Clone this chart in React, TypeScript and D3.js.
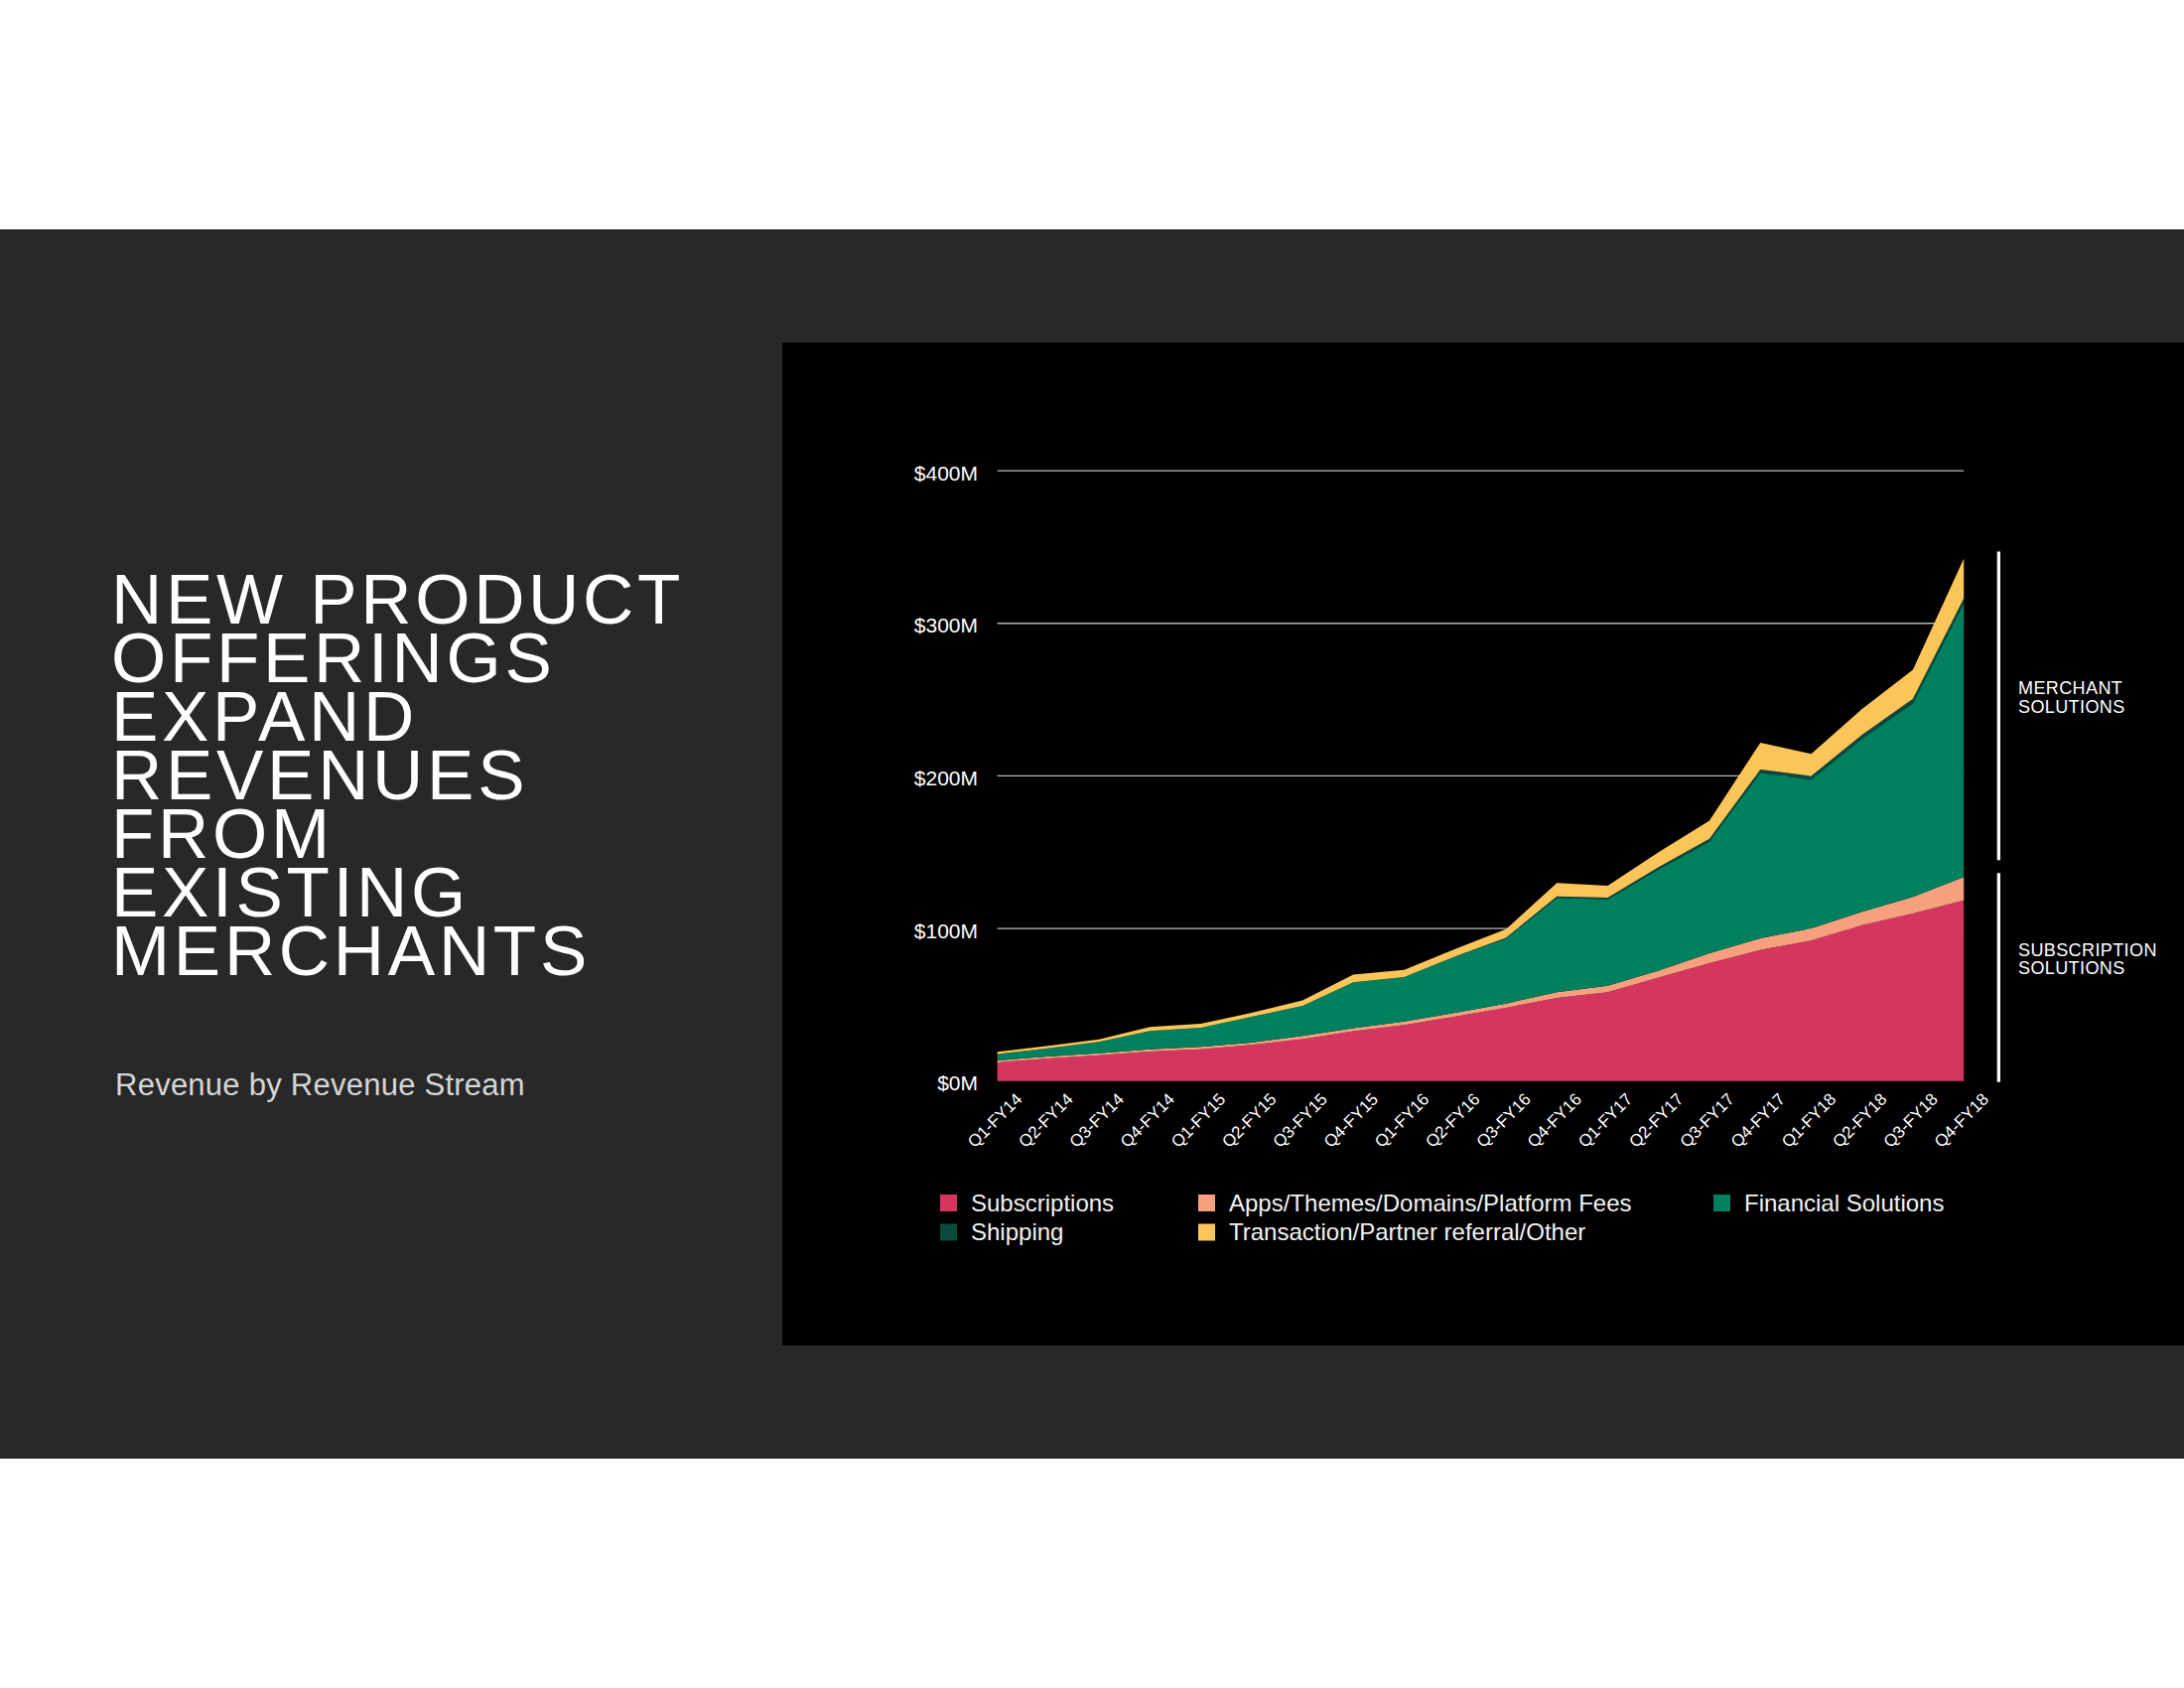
import React from "react";
import * as d3 from "d3";

const quarters = [
  "Q1-FY14", "Q2-FY14", "Q3-FY14", "Q4-FY14",
  "Q1-FY15", "Q2-FY15", "Q3-FY15", "Q4-FY15",
  "Q1-FY16", "Q2-FY16", "Q3-FY16", "Q4-FY16",
  "Q1-FY17", "Q2-FY17", "Q3-FY17", "Q4-FY17",
  "Q1-FY18", "Q2-FY18", "Q3-FY18", "Q4-FY18",
];

// $M per quarter
const subscriptions = [12.2, 14.8, 16.9, 19.3, 20.8, 23.7, 27.4, 32.7, 36.7, 42.3, 48.0, 54.5, 58.2, 67.8, 77.3, 85.9, 92.1, 102.2, 109.8, 118.5];
const appsFees = [1.3, 1.3, 1.3, 1.5, 1.6, 1.5, 2.1, 1.9, 2.3, 2.4, 2.8, 3.7, 4.3, 4.6, 6.5, 7.7, 8.0, 8.7, 10.9, 15.2];
const financialSolutions = [4.1, 5.4, 7.4, 12.0, 12.6, 16.9, 19.8, 30.1, 29.2, 36.9, 42.5, 61.9, 56.5, 66.3, 73.1, 108.4, 97.5, 113.5, 126.9, 179.5];
const shipping = [0, 0, 0, 0, 0, 0, 0, 0, 0, 0, 0.5, 1.0, 1.2, 1.5, 1.8, 2.2, 2.3, 2.6, 2.9, 3.3];
const transactionOther = [1.5, 1.5, 1.7, 2.6, 2.6, 2.6, 3.5, 5.0, 4.7, 4.9, 5.7, 8.7, 7.8, 9.8, 11.9, 17.6, 14.5, 16.8, 19.0, 26.0];

const yTicks = [0, 100, 200, 300, 400];
const yTickLabels = ["$0M", "$100M", "$200M", "$300M", "$400M"];

const seriesKeys = ["subs", "apps", "fin", "ship", "trans"];
const seriesNames = [
  "Subscriptions",
  "Apps/Themes/Domains/Platform Fees",
  "Financial Solutions",
  "Shipping",
  "Transaction/Partner referral/Other",
];
const seriesColors = ["#D4365F", "#F6A07E", "#00805F", "#0A4A3E", "#FCC55A"];

const titleLines = ["NEW PRODUCT", "OFFERINGS", "EXPAND", "REVENUES", "FROM", "EXISTING", "MERCHANTS"];
const subtitle = "Revenue by Revenue Stream";

const FONT = "'Liberation Sans', Arial, Helvetica, sans-serif";

export default function App() {
  const rows = quarters.map((q, i) => ({
    q,
    subs: subscriptions[i],
    apps: appsFees[i],
    fin: financialSolutions[i],
    ship: shipping[i],
    trans: transactionOther[i],
  }));

  const x = d3.scalePoint<string>().domain(quarters).range([1004.6, 1978.2]);
  const y = d3.scaleLinear().domain([0, 400]).range([1088.7, 474.1]);

  const stacked = d3.stack<any>().keys(seriesKeys)(rows);
  const area = d3
    .area<any>()
    .x((d: any) => x(d.data.q) as number)
    .y0((d: any) => y(d[0]))
    .y1((d: any) => y(d[1]))
    .curve(d3.curveLinear);

  const last = rows.length - 1;
  const subSolTop = subscriptions[last] + appsFees[last];
  const totalTop = stacked[stacked.length - 1][last][1];

  const xLeft = x(quarters[0]) as number;
  const xRight = x(quarters[last]) as number;

  const legendItems = [
    { col: 0, row: 0 },
    { col: 1, row: 0 },
    { col: 2, row: 0 },
    { col: 0, row: 1 },
    { col: 1, row: 1 },
  ];
  const legendColX = [947, 1207, 1726];
  const legendRowY = [1203, 1232.5];

  return (
    <svg
      width={2200}
      height={1700}
      style={{ position: "absolute", left: 0, top: 0, display: "block" }}
      fontFamily={FONT}
    >
      <rect x={0} y={0} width={2200} height={1700} fill="#ffffff" />
      <rect x={0} y={231} width={2200} height={1238} fill="#282828" />
      <rect x={788} y={345} width={1412} height={1010} fill="#000000" />

      {/* Title */}
      <text fill="#ffffff" fontSize={71} letterSpacing={3.7}>
        {titleLines.map((l, i) => (
          <tspan key={i} x={112} y={627.7 + i * 59}>
            {l}
          </tspan>
        ))}
      </text>
      <text x={116} y={1102.7} fill="#d6d6d6" fontSize={31} letterSpacing={0.25}>
        {subtitle}
      </text>

      {/* gridlines */}
      {yTicks.slice(1).map((t) => (
        <line key={t} x1={xLeft} x2={xRight} y1={y(t)} y2={y(t)} stroke="#b8b8b8" strokeWidth={1.3} />
      ))}

      {/* areas */}
      {stacked.map((s: any, i: number) => (
        <path key={seriesKeys[i]} d={area(s) as string} fill={seriesColors[i]} />
      ))}

      {/* y labels */}
      {yTicks.map((t, i) => (
        <text
          key={t}
          x={985}
          y={y(t) + 9.5}
          fill="#ffffff"
          fontSize={21}
          textAnchor="end"
        >
          {yTickLabels[i]}
        </text>
      ))}

      {/* x labels */}
      {quarters.map((q) => {
        const ax = (x(q) as number) + 26;
        const ay = 1108;
        return (
          <text
            key={q}
            x={ax}
            y={ay}
            fill="#ffffff"
            fontSize={17}
            textAnchor="end"
            transform={`rotate(-45 ${ax} ${ay})`}
          >
            {q}
          </text>
        );
      })}

      {/* bracket annotations */}
      <rect x={2011.7} y={y(totalTop) - 7} width={3.3} height={y(subSolTop) - 17 - (y(totalTop) - 7)} fill="#ffffff" />
      <rect x={2011.7} y={y(subSolTop) - 4} width={3.3} height={y(0) + 1 - (y(subSolTop) - 4)} fill="#ffffff" />
      <text fill="#ffffff" fontSize={18} letterSpacing={0.4}>
        <tspan x={2033} y={699}>MERCHANT</tspan>
        <tspan x={2033} y={718}>SOLUTIONS</tspan>
      </text>
      <text fill="#ffffff" fontSize={18} letterSpacing={0.4}>
        <tspan x={2033} y={963}>SUBSCRIPTION</tspan>
        <tspan x={2033} y={981}>SOLUTIONS</tspan>
      </text>

      {/* legend */}
      {legendItems.map((p, i) => (
        <g key={seriesNames[i]}>
          <rect x={legendColX[p.col]} y={legendRowY[p.row]} width={17} height={17} fill={seriesColors[i]} />
          <text
            x={legendColX[p.col] + 31}
            y={legendRowY[p.row] + 16.5}
            fill="#f2f2f2"
            fontSize={24}
          >
            {seriesNames[i]}
          </text>
        </g>
      ))}
    </svg>
  );
}
